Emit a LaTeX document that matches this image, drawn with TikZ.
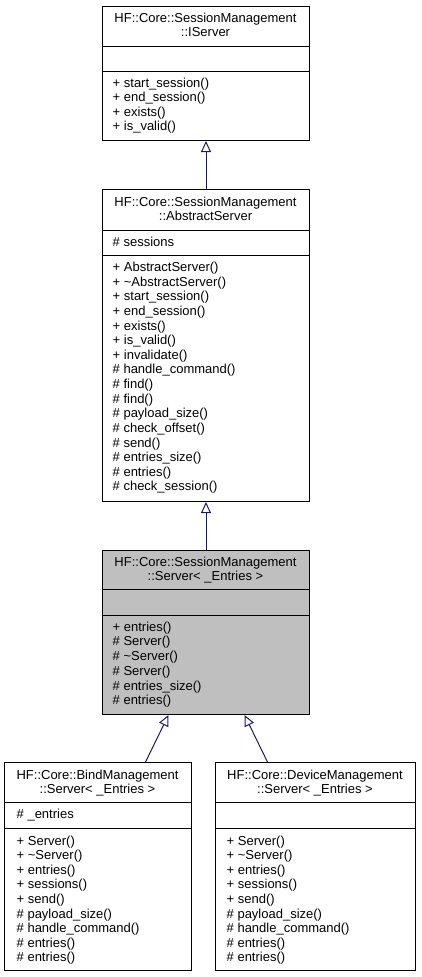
\documentclass[tikz,border=0pt]{standalone}
\usepackage{fontspec}
\setmainfont{Liberation Sans}
\usetikzlibrary{arrows.meta}
\definecolor{edgeblue}{HTML}{191970}
\definecolor{selgray}{HTML}{BFBFBF}
\tikzset{
  cbox/.style={draw=black, line width=1pt, fill=white, inner sep=0pt, anchor=north west},
  divider/.style={draw=black, line width=1pt},
  ttext/.style={inner sep=0pt, anchor=base, font=\fontsize{13}{14.65}\selectfont},
  mtext/.style={inner sep=0pt, anchor=base west, font=\fontsize{13}{14.65}\selectfont},
  inh/.style={draw=edgeblue, line width=1pt, -{Triangle[open, length=11pt, width=10pt, line width=1pt]}}
}
\begin{document}
\begin{tikzpicture}[x=1pt,y=-1pt]
\fill[white] (0,0) rectangle (421,977);
\useasboundingbox (0,0) rectangle (421,977);

% ---------- Box 1: IServer ----------
\node[cbox, minimum width=207pt, minimum height=134pt] (c1) at (102,6) {};
\draw[divider] (102,46) -- (309,46);
\draw[divider] (102,71) -- (309,71);
\node[ttext] (c1t1) at (205.5,22) {HF::Core::SessionManagement};
\node[ttext] (c1t2) at (205.5,36.6) {::IServer};
\foreach [count=\i] \t in {+ start\_session(), + end\_session(), + exists(), + is\_valid()}
  \node[mtext] (c1m\i) at (112.5,{87+(\i-1)*14.65}) {\t};

% ---------- Box 2: AbstractServer ----------
\node[cbox, minimum width=207pt, minimum height=312pt] (c2) at (102,189) {};
\draw[divider] (102,230) -- (309,230);
\draw[divider] (102,255) -- (309,255);
\node[ttext] (c2t1) at (205.5,206) {HF::Core::SessionManagement};
\node[ttext] (c2t2) at (205.5,220.6) {::AbstractServer};
\node[mtext] (c2a1) at (112.5,246.5) {\# sessions};
\foreach [count=\i] \t in {+ AbstractServer(), + \textasciitilde AbstractServer(), + start\_session(), + end\_session(), + exists(), + is\_valid(), + invalidate(), \# handle\_command(), \# find(), \# find(), \# payload\_size(), \# check\_offset(), \# send(), \# entries\_size(), \# entries(), \# check\_session()}
  \node[mtext] (c2m\i) at (112.5,{271.5+(\i-1)*14.63}) {\t};

% ---------- Box 3: Server<_Entries> ----------
\node[cbox, fill=selgray, minimum width=207pt, minimum height=164pt] (c3) at (102,550) {};
\draw[divider] (102,589) -- (309,589);
\draw[divider] (102,615) -- (309,615);
\node[ttext] (c3t1) at (205.5,566) {HF::Core::SessionManagement};
\node[ttext] (c3t2) at (205.5,580.6) {::Server< \_Entries >};
\foreach [count=\i] \t in {+ entries(), \# Server(), \# \textasciitilde Server(), \# Server(), \# entries\_size(), \# entries()}
  \node[mtext] (c3m\i) at (112.5,{631+(\i-1)*14.75}) {\t};

% ---------- Box 4: BindManagement ----------
\node[cbox, minimum width=187pt, minimum height=208pt] (c4) at (4,762) {};
\draw[divider] (4,802) -- (191,802);
\draw[divider] (4,828) -- (191,828);
\node[ttext] (c4t1) at (97.5,779) {HF::Core::BindManagement};
\node[ttext] (c4t2) at (97.5,793.6) {::Server< \_Entries >};
\node[mtext] (c4a1) at (16.5,818.5) {\# \_entries};
\foreach [count=\i] \t in {+ Server(), + \textasciitilde Server(), + entries(), + sessions(), + send(), \# payload\_size(), \# handle\_command(), \# entries(), \# entries()}
  \node[mtext] (c4m\i) at (16.5,{845+(\i-1)*14.62}) {\t};

% ---------- Box 5: DeviceManagement ----------
\node[cbox, minimum width=200pt, minimum height=208pt] (c5) at (215,762) {};
\draw[divider] (215,802) -- (415,802);
\draw[divider] (215,828) -- (415,828);
\node[ttext] (c5t1) at (315,779) {HF::Core::DeviceManagement};
\node[ttext] (c5t2) at (315,793.6) {::Server< \_Entries >};
\foreach [count=\i] \t in {+ Server(), + \textasciitilde Server(), + entries(), + sessions(), + send(), \# payload\_size(), \# handle\_command(), \# entries(), \# entries()}
  \node[mtext] (c5m\i) at (226.5,{845+(\i-1)*14.62}) {\t};

% ---------- Inheritance arrows ----------
\draw[inh] (c2.north) -- (c1.south);
\draw[inh] (c3.north) -- (c2.south);
\draw[inh] ([xshift=47.5pt]c4.north) -- ([xshift=-37.5pt]c3.south);
\draw[inh] ([xshift=-48pt]c5.north) -- ([xshift=38.5pt]c3.south);
\end{tikzpicture}
\end{document}
